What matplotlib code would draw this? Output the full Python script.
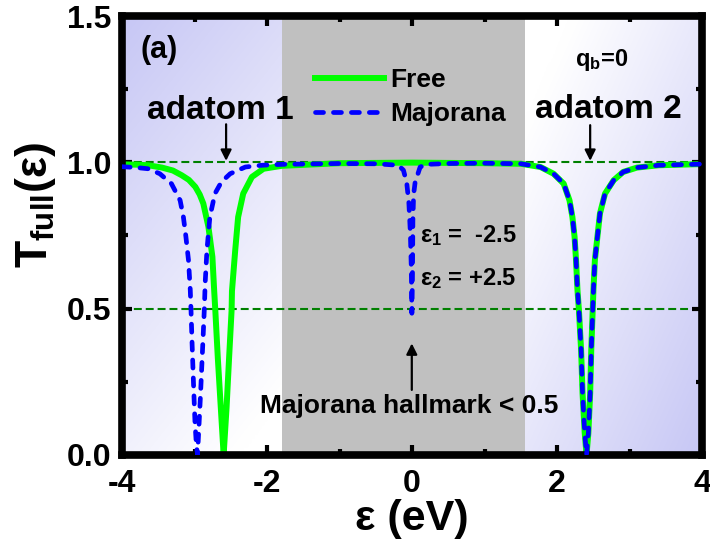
import matplotlib
matplotlib.use('Agg')
import matplotlib.pyplot as plt
import numpy as np

plt.rcParams['font.family'] = ['Liberation Sans', 'DejaVu Sans']
plt.rcParams['font.weight'] = 'bold'
plt.rcParams['mathtext.fontset'] = 'custom'
plt.rcParams['mathtext.rm'] = 'Liberation Sans:bold'
plt.rcParams['mathtext.it'] = 'Liberation Sans:bold'
plt.rcParams['mathtext.bf'] = 'Liberation Sans:bold'
plt.rcParams['axes.unicode_minus'] = False

# region borders along energy axis: blue | gray | blue
region_edges = [-4.0, -1.8, 1.55, 4.0]

# second adatom dip (both curves coincide there)
dip2_x = [1.50, 1.77, 1.95, 2.09, 2.17, 2.21, 2.24, 2.26, 2.28, 2.30, 2.33, 2.35,
          2.38, 2.405, 2.43, 2.455, 2.47, 2.49, 2.50, 2.52, 2.56, 2.59, 2.66, 2.78,
          2.91, 3.10, 3.40, 3.70, 4.00]
dip2_y = [0.995, 0.984, 0.961, 0.927, 0.870, 0.813, 0.745, 0.666, 0.563, 0.495, 0.358, 0.210,
          0.074, 0.0, 0.074, 0.210, 0.358, 0.495, 0.563, 0.666, 0.757, 0.825, 0.893, 0.939,
          0.967, 0.982, 0.990, 0.992, 0.994]

free_x = [-4.00, -3.80, -3.64, -3.45, -3.30, -3.18, -3.08, -2.99, -2.93, -2.88, -2.81, -2.755,
          -2.73, -2.715, -2.68, -2.64, -2.60, -2.56, -2.525, -2.49, -2.485, -2.44, -2.40, -2.33,
          -2.21, -2.05, -1.80, -1.00, 0.00, 1.00] + dip2_x
free_y = [0.993, 0.992, 0.990, 0.982, 0.972, 0.956, 0.940, 0.916, 0.890, 0.859, 0.780, 0.677,
          0.560, 0.495, 0.330, 0.165, 0.0, 0.160, 0.330, 0.495, 0.560, 0.700, 0.813, 0.893,
          0.950, 0.978, 0.988, 0.997, 0.999, 0.997] + dip2_y

maj_x = [-4.00, -3.80, -3.64, -3.48, -3.32, -3.20, -3.155, -3.12, -3.085, -3.06, -3.05, -3.035,
         -3.015, -2.995, -2.975, -2.96, -2.94, -2.92, -2.90, -2.88, -2.865, -2.855, -2.83, -2.79,
         -2.72, -2.63, -2.51, -2.30, -2.07, -1.80, -1.00, -0.50, -0.19, -0.12, -0.075, -0.045,
         -0.025, -0.012, -0.004, 0.004, 0.010, 0.020, 0.040, 0.065, 0.11, 0.20, 0.50, 1.00] + dip2_x
maj_y = [0.985, 0.982, 0.978, 0.961, 0.927, 0.870, 0.813, 0.745, 0.666, 0.563, 0.495, 0.380,
         0.240, 0.110, 0.030, 0.0, 0.100, 0.200, 0.310, 0.420, 0.506, 0.586, 0.700, 0.813,
         0.893, 0.933, 0.961, 0.984, 0.990, 0.993, 0.996, 0.995, 0.990, 0.973, 0.930, 0.860,
         0.760, 0.640, 0.484, 0.600, 0.800, 0.890, 0.930, 0.950, 0.984, 0.993, 0.996, 0.997] + dip2_y

x_ticks = [-4, -2, 0, 2, 4]
y_ticks = [0.0, 0.5, 1.0, 1.5]

fig = plt.figure(figsize=(7.1, 5.54), dpi=100)
ax = fig.add_axes([0.172, 0.179, 0.817, 0.792])

# backgrounds
blue = np.array([0.78, 0.78, 0.96])
white = np.array([1.0, 1.0, 1.0])
u, v = np.meshgrid(np.linspace(0, 1, 100), np.linspace(1, 0, 100))
t_left = np.clip(0.35 * u + 0.75 * (1 - v), 0, 1)
img_left = blue * (1 - t_left[..., None]) + white * t_left[..., None]
t_right = np.clip(0.55 * (1 - u) + 0.6 * v, 0, 1)
img_right = blue * (1 - t_right[..., None]) + white * t_right[..., None]
ax.imshow(img_left, extent=[region_edges[0], region_edges[1], 0, 1.5],
          aspect='auto', interpolation='bicubic', zorder=0)
ax.imshow(img_right, extent=[region_edges[2], region_edges[3], 0, 1.5],
          aspect='auto', interpolation='bicubic', zorder=0)
ax.axvspan(region_edges[1], region_edges[2], color='#c0c0c0', lw=0, zorder=0)

ax.axhline(1.0, color='#008000', lw=1.5, dashes=(3.8, 1.9), zorder=1)
ax.axhline(0.5, color='#008000', lw=1.5, dashes=(3.8, 1.9), zorder=1)

ax.plot(free_x, free_y, color='#00ff00', lw=4.3, label='Free', zorder=2)
ax.plot(maj_x, maj_y, color='#0000ff', lw=3.4, dashes=(1.7, 2.1),
        dash_capstyle='round', label='Majorana', zorder=3)

ax.set_xlim(-4, 4)
ax.set_ylim(0, 1.5)
ax.set_xticks(x_ticks)
ax.set_xticklabels([str(t) for t in x_ticks])
ax.set_yticks(y_ticks)
ax.set_yticklabels(['%.1f' % t for t in y_ticks])
ax.set_xticks([-3, -1, 1, 3], minor=True)
ax.set_yticks([0.25, 0.75, 1.25], minor=True)
ax.tick_params(which='both', direction='in', top=True, right=True, width=3)
ax.tick_params(which='major', length=7, labelsize=23, pad=8)
ax.tick_params(axis='x', which='major', pad=10)
ax.tick_params(which='minor', length=4)
for s in ax.spines.values():
    s.set_linewidth(5.5)

ax.set_xlabel('ε (eV)', fontsize=31, fontweight='bold')
ax.xaxis.set_label_coords(0.5, -0.1)
ax.set_ylabel('T$_{\\mathbf{full}}$(ε)', fontsize=32, fontweight='bold')
ax.yaxis.set_label_coords(-0.11, 0.57)

leg = ax.legend(loc='upper left', bbox_to_anchor=(0.333, 0.882), frameon=False,
                fontsize=19, handlelength=2.6, handletextpad=0.25, labelspacing=0.4,
                borderpad=0, borderaxespad=0)

ax.text(-3.75, 1.358, '(a)', fontsize=22, fontweight='bold')
ax.text(2.25, 1.33, 'q$_\\mathbf{b}$=0', fontsize=17, fontweight='bold')
ax.text(-2.64, 1.147, 'adatom 1', fontsize=24, fontweight='bold', ha='center')
ax.text(2.70, 1.15, 'adatom 2', fontsize=24, fontweight='bold', ha='center')
ax.text(0.11, 0.727, 'ε$_\\mathbf{1}$ =  -2.5', fontsize=17, fontweight='bold')
ax.text(0.11, 0.58, 'ε$_\\mathbf{2}$ = +2.5', fontsize=17, fontweight='bold')
ax.text(-0.04, 0.143, 'Majorana hallmark < 0.5', fontsize=19, fontweight='bold', ha='center')

arrow = dict(arrowstyle='-|>', lw=1.6, color='k', mutation_scale=16, shrinkA=0, shrinkB=0)
ax.annotate('', xy=(-2.566, 1.005), xytext=(-2.566, 1.13), arrowprops=arrow)
ax.annotate('', xy=(2.455, 1.005), xytext=(2.455, 1.127), arrowprops=arrow)
ax.annotate('', xy=(-0.005, 0.381), xytext=(-0.005, 0.222), arrowprops=arrow)

fig.savefig('out.png', dpi=100)
